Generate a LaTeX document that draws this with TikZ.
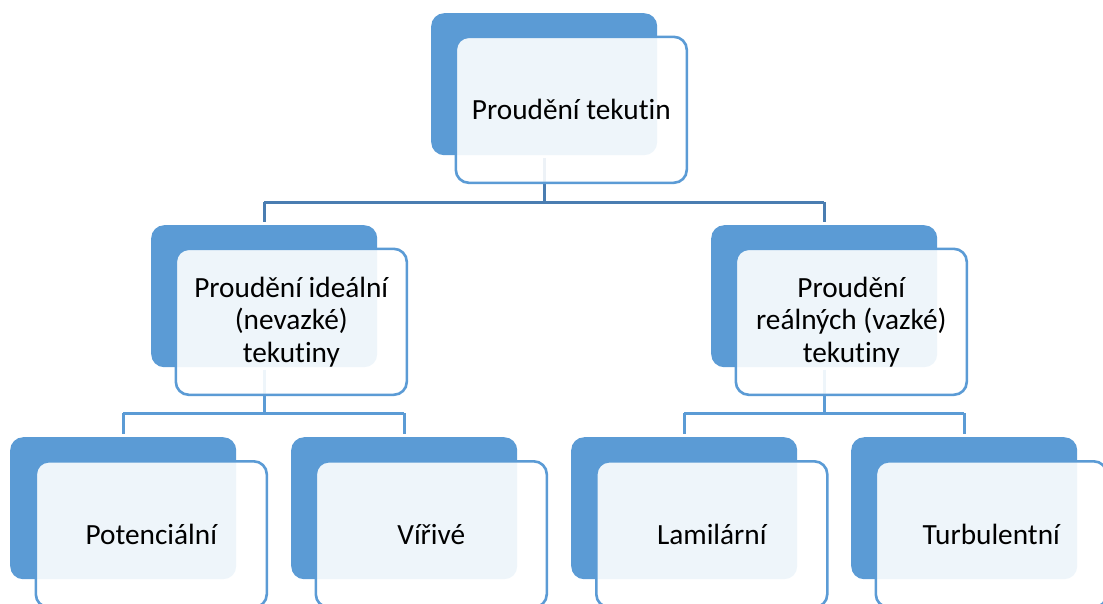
\documentclass[tikz,border=0pt]{standalone}
\usepackage{fontspec}
\setmainfont{Carlito}[Ligatures=NoCommon]
\usetikzlibrary{calc}
\definecolor{accent}{HTML}{5B9BD5}
\definecolor{topline}{HTML}{4A7DB1}
\begin{document}
\begin{tikzpicture}[x=1pt,y=-1pt,
  backbox/.style={rectangle, rounded corners=13pt, fill=accent, draw=none,
    minimum width=226pt, minimum height=142pt, anchor=north west, inner sep=0pt},
  frontbox/.style={rectangle, rounded corners=13pt, fill=white, fill opacity=0.9, text opacity=1,
    draw=accent, line width=2.6pt, minimum width=231pt, minimum height=146pt,
    anchor=north west, inner sep=0pt, align=center,
    font=\fontsize{29.3}{32.5}\selectfont},
  conn/.style={draw=accent, line width=3pt},
  conntop/.style={draw=topline, line width=3pt}]
\useasboundingbox (0,0) rectangle (1103,603);
\coordinate (bar0) at (0,202);
\coordinate (bar1) at (0,413);
% back boxes
\node[backbox] (b0) at (431,13) {};
\node[backbox] (b1) at (151,225) {};
\node[backbox] (b2) at (711,225) {};
\node[backbox] (b3) at (10,437) {};
\node[backbox] (b4) at (291,437) {};
\node[backbox] (b5) at (571,437) {};
\node[backbox] (b6) at (851,437) {};
% connectors
\draw[conntop, shorten <=3pt] (b0.south) -- (b0.south |- bar0);
\draw[conntop] (b1.north |- bar0) -- (b2.north |- bar0);
\draw[conntop, shorten >=3pt] (b1.north |- bar0) -- (b1.north);
\draw[conntop, shorten >=3pt] (b2.north |- bar0) -- (b2.north);
\draw[conn, shorten <=3pt] (b1.south) -- (b1.south |- bar1);
\draw[conn] (b3.north |- bar1) -- (b4.north |- bar1);
\draw[conn, shorten >=3pt] (b3.north |- bar1) -- (b3.north);
\draw[conn, shorten >=3pt] (b4.north |- bar1) -- (b4.north);
\draw[conn, shorten <=3pt] (b2.south) -- (b2.south |- bar1);
\draw[conn] (b5.north |- bar1) -- (b6.north |- bar1);
\draw[conn, shorten >=3pt] (b5.north |- bar1) -- (b5.north);
\draw[conn, shorten >=3pt] (b6.north |- bar1) -- (b6.north);
% front boxes
\node[frontbox] (f0) at (454.5,35.5) {Proudění tekutin};
\node[frontbox] (f1) at (174.5,247.5) {Proudění ideální\\(nevazké)\\tekutiny};
\node[frontbox] (f2) at (734.5,247.5) {Proudění\\reálných (vazké)\\tekutiny};
\node[frontbox] (f3) at (34.5,460) {Potenciální};
\node[frontbox] (f4) at (314.5,460) {Vířivé};
\node[frontbox] (f5) at (595,460) {Lamilární};
\node[frontbox] (f6) at (874.5,460) {Turbulentní};
\end{tikzpicture}
\end{document}
